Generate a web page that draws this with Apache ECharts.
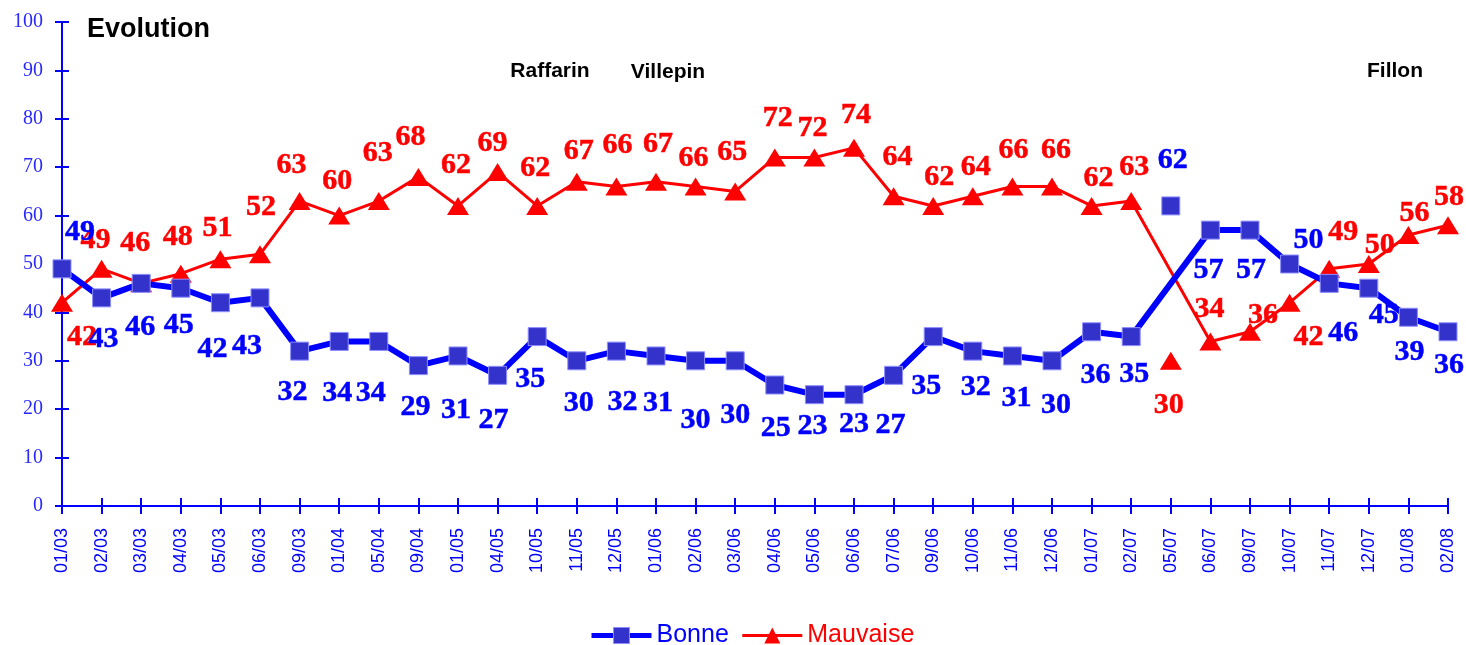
<!DOCTYPE html>
<html>
<head>
<meta charset="utf-8">
<script src="https://cdn.jsdelivr.net/npm/echarts@6/dist/echarts.min.js"></script>
<style>
html,body{margin:0;padding:0;background:#fff;}
#chart{width:1466px;height:645px;}
</style>
</head>
<body>
<div id="chart"></div>
<script>
// ---- data ----
const categories = ['01/03','02/03','03/03','04/03','05/03','06/03','09/03','01/04','05/04','09/04','01/05','04/05','10/05','11/05','12/05','01/06','02/06','03/06','04/06','05/06','06/06','07/06','09/06','10/06','11/06','12/06','01/07','02/07','05/07','06/07','09/07','10/07','11/07','12/07','01/08','02/08'];
const bonne = [49,43,46,45,42,43,32,34,34,29,31,27,35,30,32,31,30,30,25,23,23,27,35,32,31,30,36,35,null,57,57,50,46,45,39,36];
const mauvaise = [42,49,46,48,51,52,63,60,63,68,62,69,62,67,66,67,66,65,72,72,74,64,62,64,66,66,62,63,null,34,36,42,49,50,56,58];
const bonneIsolated = [null,null,null,null,null,null,null,null,null,null,null,null,null,null,null,null,null,null,null,null,null,null,null,null,null,null,null,null,62,null,null,null,null,null,null,null];
const mauvaiseIsolated = [null,null,null,null,null,null,null,null,null,null,null,null,null,null,null,null,null,null,null,null,null,null,null,null,null,null,null,null,30,null,null,null,null,null,null,null];
const yTicks = {min:0, max:100, interval:10};
const annotations = [
  {text:'Raffarin', x:550, y:71},
  {text:'Villepin', x:668, y:72},
  {text:'Fillon', x:1395, y:71}
];

// ---- label offsets (layout only) ----
const bonneLabelOffsets = [[18,-37],[2,41],[-1,44],[-2,37],[-8,47],[-13,48],[-7,41],[-2,52],[-8,52],[-3,42],[-2,54],[-4,45],[-7,43],[2,42],[6,51],[2,47],[0,59],[0,54],[1,43],[-2,32],[0,30],[-3,50],[-7,50],[3,36],[4,42],[4,44],[4,43],[3,38],[2,-46],[-2,40],[1,40],[19,-24],[14,50],[15,27],[1,35],[1,33]];
const mauvaiseLabelOffsets = [[20,35],[-6,-29],[-6,-40],[-3,-36],[-3,-31],[1,-47],[-8,-36],[-2,-34],[-1,-48],[-8,-40],[-2,-41],[-5,-29],[-2,-38],[2,-30],[1,-41],[2,-37],[-2,-28],[-3,-39],[3,-39],[-2,-29],[2,-33],[4,-39],[6,-29],[3,-29],[1,-36],[4,-36],[7,-28],[3,-34],[-2,44],[-1,-32],[13,-17],[19,35],[14,-37],[11,-19],[6,-22],[1,-28]];

const BLUE = '#0000ff', RED = '#ff0000';

function seriesLabel(color) {
  return {
    show:true, position:'inside', formatter:'{c}',
    color: color, fontFamily:'Liberation Serif', fontWeight:'bold', fontSize:30,
    textBorderColor: color, textBorderWidth: 0.5
  };
}
function withOffsets(values, offsets) {
  return values.map((v, i) => v == null ? null : ({value: v, label: {offset: offsets[i]}}));
}

const squareStyle = {color:'#3333cc', borderColor:'#8f8fff', borderWidth:1, opacity:1};
const triStyle = {color:RED, opacity:1};

const chart = echarts.init(document.getElementById('chart'), null, {renderer:'canvas'});
const xCommon = {
  type:'category', data:categories, boundaryGap:false,
  axisLine:{lineStyle:{color:BLUE, width:2}}
};
const yCommon = {
  type:'value', min:yTicks.min, max:yTicks.max, interval:yTicks.interval,
  splitLine:{show:false},
  axisLine:{show:true, lineStyle:{color:BLUE, width:2}}
};
chart.setOption({
  animation:false,
  backgroundColor:'#ffffff',
  title:{text:'Evolution', left:82, top:11, textStyle:{fontFamily:'Liberation Sans', fontWeight:'bold', fontSize:27, color:'#000'}},
  grid:{left:62, right:18, top:22, bottom:139, containLabel:false},
  legend:{
    top:618, left:584, itemWidth:60, itemHeight:20, itemGap:12,
    textStyle:{fontFamily:'Liberation Sans', fontSize:25},
    data:[
      {name:'Bonne', textStyle:{color:BLUE}, lineStyle:{width:5, color:BLUE}, itemStyle:{color:'#3333cc', borderColor:'#8f8fff', borderWidth:1}},
      {name:'Mauvaise', textStyle:{color:RED}, lineStyle:{width:3, color:RED}, itemStyle:{color:RED}}
    ]
  },
  xAxis:[
    {...xCommon, axisTick:{show:true, inside:false, length:8, lineStyle:{color:BLUE, width:2}, interval:0},
      axisLabel:{interval:0, rotate:90, margin:22, color:BLUE, fontFamily:'Liberation Sans', fontSize:18}},
    {...xCommon, position:'bottom', axisTick:{show:true, inside:true, length:8, lineStyle:{color:BLUE, width:2}, interval:0},
      axisLabel:{show:false}}
  ],
  yAxis:[
    {...yCommon, axisTick:{show:true, length:7, lineStyle:{color:BLUE, width:2}},
      axisLabel:{color:'#2a2aff', fontFamily:'Liberation Serif', fontSize:20, margin:19}},
    {...yCommon, position:'left', axisTick:{show:true, inside:true, length:7, lineStyle:{color:BLUE, width:2}},
      axisLabel:{show:false}}
  ],
  graphic: annotations.map(a => ({
    type:'text', x:a.x, y:a.y, z:100,
    style:{text:a.text, fill:'#000', font:'bold 21px "Liberation Sans"', textAlign:'center', textVerticalAlign:'middle'}
  })),
  series:[
    {name:'Mauvaise', type:'line', connectNulls:true,
      data: withOffsets(mauvaise, mauvaiseLabelOffsets), label: seriesLabel(RED),
      symbol:'triangle', symbolSize:[22,18], itemStyle:triStyle,
      lineStyle:{color:RED, width:3}, z:2},
    {name:'Bonne', type:'line', connectNulls:true,
      data: withOffsets(bonne, bonneLabelOffsets), label: seriesLabel(BLUE),
      symbol:'rect', symbolSize:18, itemStyle:squareStyle,
      lineStyle:{color:BLUE, width:6}, z:3},
    {name:'Bonne (05/07)', type:'scatter',
      data: withOffsets(bonneIsolated, bonneLabelOffsets), label: seriesLabel(BLUE),
      symbol:'rect', symbolSize:18, itemStyle:squareStyle, z:3},
    {name:'Mauvaise (05/07)', type:'scatter',
      data: withOffsets(mauvaiseIsolated, mauvaiseLabelOffsets), label: seriesLabel(RED),
      symbol:'triangle', symbolSize:[22,18], itemStyle:triStyle, z:2}
  ]
});
</script>
</body>
</html>
